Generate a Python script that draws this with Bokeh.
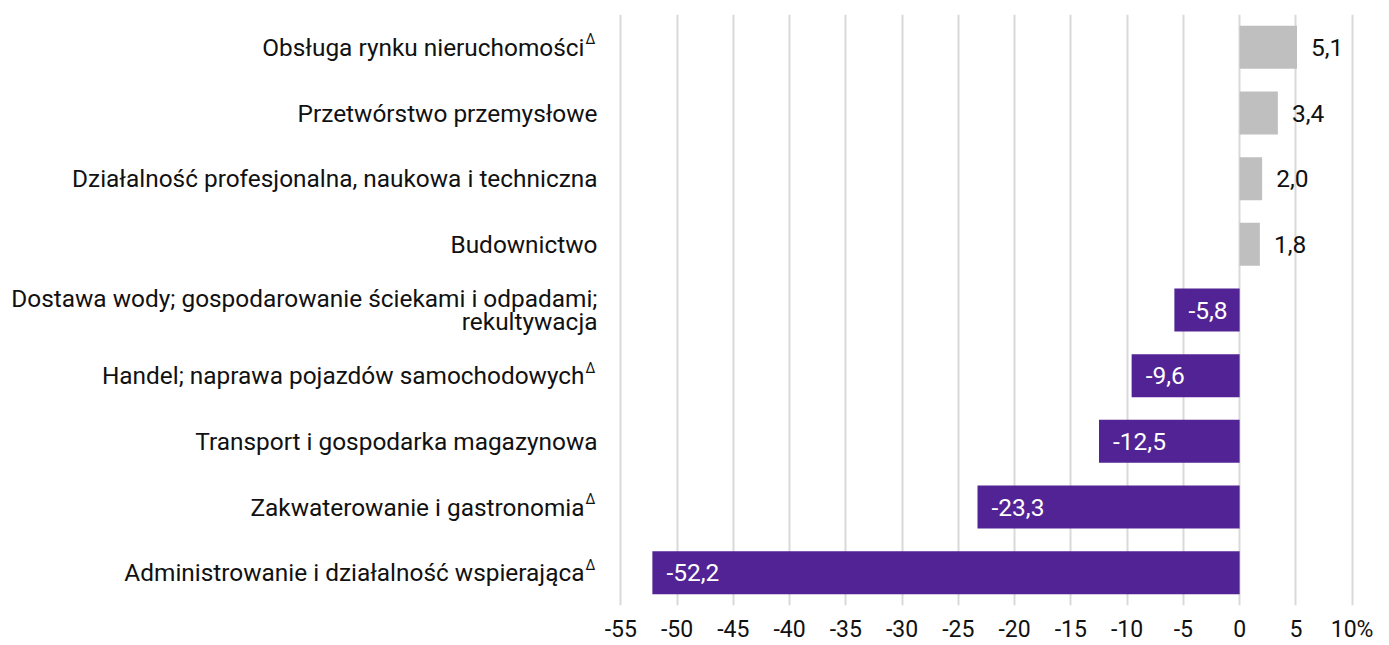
from bokeh.plotting import figure
from bokeh.layouts import row
from bokeh.models import ColumnDataSource, FactorRange, Range1d, FixedTicker
from bokeh.core.properties import value
from bokeh.embed import file_html
from bokeh.resources import INLINE

categories = [
    "Obsługa rynku nieruchomości",
    "Przetwórstwo przemysłowe",
    "Działalność profesjonalna, naukowa i techniczna",
    "Budownictwo",
    "Dostawa wody; gospodarowanie ściekami i odpadami;\nrekultywacja",
    "Handel; naprawa pojazdów samochodowych",
    "Transport i gospodarka magazynowa",
    "Zakwaterowanie i gastronomia",
    "Administrowanie i działalność wspierająca",
]
values = [5.1, 3.4, 2.0, 1.8, -5.8, -9.6, -12.5, -23.3, -52.2]
has_delta = [True, False, False, False, False, True, False, True, True]
x_ticks = [-55, -50, -45, -40, -35, -30, -25, -20, -15, -10, -5, 0, 5, 10]
x_tick_labels = ["-55", "-50", "-45", "-40", "-35", "-30", "-25", "-20",
                 "-15", "-10", "-5", "0", "5", "10%"]

FONT = "Roboto"
POS_COLOR = "#BFBFBF"
NEG_COLOR = "#522394"
TEXT_COLOR = "#111111"
H = 645
TOP, BOTTOM = 14, 40

src = ColumnDataSource(dict(
    cat=categories,
    val=values,
    color=[POS_COLOR if v >= 0 else NEG_COLOR for v in values],
    label=[f"{v:.1f}".replace(".", ",") for v in values],
    tcolor=[TEXT_COLOR if v >= 0 else "white" for v in values],
    xoff=[14 if v >= 0 else 14 for v in values],
))
lab_src = ColumnDataSource(dict(
    cat=categories,
    pos=[1.0] * len(categories),
    xoff=[-16 if d else -3 for d in has_delta],
))
delta_cats = [c for c, d in zip(categories, has_delta) if d]
delta_src = ColumnDataSource(dict(cat=delta_cats, pos=[1.0] * len(delta_cats),
                                  mark=["Δ"] * len(delta_cats)))

y_range = FactorRange(factors=categories[::-1], range_padding=0)

# ---- label panel (left) ----
lp = figure(width=600, height=H, x_range=Range1d(0, 1), y_range=y_range,
            x_axis_location=None, y_axis_location=None,
            output_backend="svg", toolbar_location=None,
            min_border_left=0, min_border_right=0,
            min_border_top=TOP, min_border_bottom=BOTTOM)
lp.outline_line_color = None
lp.xgrid.grid_line_color = None
lp.ygrid.grid_line_color = None
lp.text(x="pos", y="cat", text="cat", x_offset="xoff", source=lab_src,
        text_align="right", text_baseline="middle", text_font=value(FONT),
        text_font_size="24.4px", text_color=TEXT_COLOR, text_line_height=0.78)
lp.text(x="pos", y="cat", text="mark", x_offset=-15, y_offset=-8, source=delta_src,
        text_align="left", text_baseline="middle", text_font=value(FONT),
        text_font_size="14px", text_color=TEXT_COLOR)

# ---- chart ----
p = figure(
    width=785, height=H,
    x_range=Range1d(-55.3, 10.3), y_range=y_range,
    y_axis_location=None,
    output_backend="svg", toolbar_location=None,
    min_border_left=17, min_border_right=30,
    min_border_top=TOP, min_border_bottom=BOTTOM,
)
p.outline_line_color = None

p.hbar(y="cat", left=0, right="val", height=0.655, fill_color="color",
       line_color=None, source=src)
p.text(x="val", y="cat", text="label", x_offset="xoff", text_color="tcolor",
       text_align="left", text_baseline="middle", text_font=value(FONT),
       text_font_size="24.5px", source=src)

p.xaxis.ticker = FixedTicker(ticks=x_ticks)
p.xaxis.major_label_overrides = {t: l for t, l in zip(x_ticks, x_tick_labels)}
p.xaxis.axis_line_color = None
p.xaxis.major_tick_line_color = None
p.xaxis.minor_tick_line_color = None
p.xaxis.major_tick_out = 0
p.xaxis.major_tick_in = 0
p.xaxis.major_label_standoff = 10
p.xaxis.major_label_text_font = FONT
p.xaxis.major_label_text_font_size = "23px"
p.xaxis.major_label_text_color = TEXT_COLOR

p.xgrid.ticker = FixedTicker(ticks=x_ticks)
p.xgrid.grid_line_color = "#D9D9D9"
p.xgrid.grid_line_width = 2
p.ygrid.grid_line_color = None

open("out.html", "w").write(file_html(row(lp, p, spacing=0), INLINE))
